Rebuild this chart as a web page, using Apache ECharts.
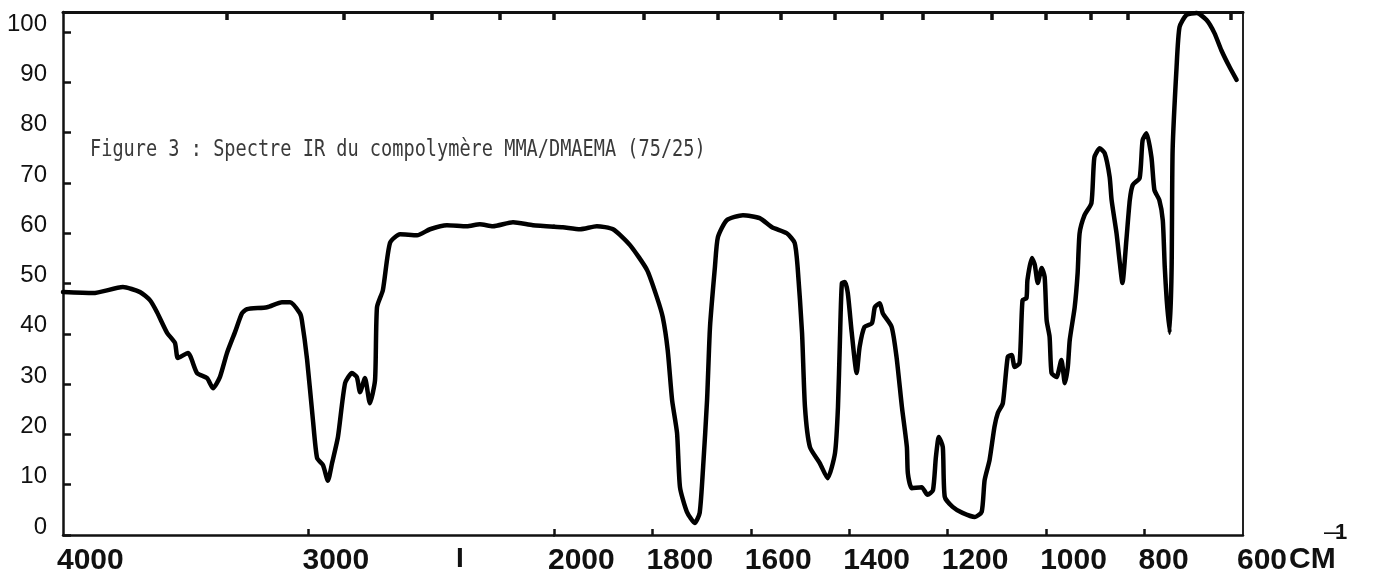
<!DOCTYPE html>
<html>
<head>
<meta charset="utf-8">
<script src="https://cdn.jsdelivr.net/npm/echarts@6/dist/echarts.min.js"></script>
<style>
html,body{margin:0;padding:0;background:#fff;}
#chart{width:1375px;height:584px;}
</style>
</head>
<body>
<div id="chart"></div>
<script>
// ---- Data (wavenumber in cm-1, transmittance in %) ----
// High-wavenumber section (4000 -> 2000 cm-1)
const hiWavenumbers = [4000,3878,3756,3686,3646,3617,3576,3544,3532,3491,3454,3413,3389,3361,3332,3299,3271,3251,3169,3108,3075,3035,3027,3006,2982,2965,2941,2921,2904,2880,2851,2823,2803,2790,2770,2750,2729,2721,2697,2668,2627,2558,2505,2436,2355,2302,2249,2167,2086,2000];
const hiTransmittance = [48.3,48.1,49.3,48.3,46.7,44.3,40.2,38.2,35.2,36.2,32.2,31.2,29.2,31.4,36.2,40.4,44.1,44.9,45.3,46.3,46.3,44.1,42.7,35.0,22.9,15.3,13.9,10.8,14.3,19.5,30.2,32.2,31.4,28.4,31.2,26.2,30.8,45.3,48.7,58.1,59.8,59.6,60.8,61.6,61.4,61.8,61.4,62.2,61.6,61.3];
// Low-wavenumber section (2000 -> 600 cm-1)
const loWavenumbers = [2000,1982,1947,1913,1880,1846,1811,1791,1779,1769,1760,1750,1744,1730,1714,1704,1697,1689,1683,1673,1667,1649,1616,1582,1557,1527,1511,1505,1496,1490,1480,1460,1444,1429,1423,1419,1415,1409,1403,1395,1385,1379,1369,1354,1348,1338,1332,1314,1304,1293,1283,1281,1273,1253,1241,1230,1224,1218,1210,1206,1190,1170,1145,1131,1125,1115,1105,1098,1088,1078,1070,1064,1054,1048,1040,1038,1029,1023,1017,1009,1003,999,993,989,979,969,962,956,952,942,936,932,922,908,902,891,881,871,867,857,851,845,837,830,824,810,804,796,786,780,770,763,759,755,749,745,743,735,729,715,694,674,658,644,627,613];
const loTransmittance = [61.3,61.2,60.8,61.4,60.8,57.7,52.7,47.3,43.3,36.8,26.8,20.3,9.5,4.6,2.4,4.4,13.5,26.8,41.4,53.3,59.2,62.6,63.6,63.0,61.2,60.0,58.1,53.3,40.2,25.4,17.5,14.3,11.3,16.3,25.4,38.8,50.1,50.3,48.1,40.2,32.2,37.4,41.4,42.1,45.3,46.1,44.1,41.4,35.4,25.4,17.5,12.3,9.3,9.5,8.0,8.9,15.5,19.5,17.5,7.6,5.6,4.4,3.6,4.6,10.9,14.9,21.5,24.3,26.2,35.4,35.8,33.4,34.2,46.7,47.1,50.7,55.1,53.7,50.1,53.1,51.3,42.7,39.4,32.2,31.4,34.8,30.2,33.4,38.8,45.3,52.1,60.0,63.6,66.0,75.1,76.9,75.9,71.2,66.6,60.0,54.7,50.1,58.6,66.6,69.6,71.0,78.5,79.9,75.1,68.6,66.6,62.6,53.3,46.7,40.2,53.3,76.5,93.0,101.0,103.4,103.8,102.4,99.8,96.4,93.0,90.5];

// Tick labels / tick positions
const yTickValues = [0,10,20,30,40,50,60,70,80,90,100];
const hiXLabels = [4000,3000];
const loXLabels = [2000,1800,1600,1400,1200,1000,800,600];
const micronTicks = [3,3.5,4,4.5,5,5.5,6,6.5,7,7.5,8,9,10,11,12,16]; // top scale, µm
const titleText = 'Figure 3 : Spectre IR du compolymère MMA/DMAEMA (75/25)';

const hiMicronCm = micronTicks.map(m => 10000 / m).filter(w => w > 2000 && w < 4000);
const loMicronCm = micronTicks.map(m => 10000 / m).filter(w => w >= 600 && w <= 2000);

const hiData = hiWavenumbers.map((w, i) => [w, hiTransmittance[i]]);
const loData = loWavenumbers.map((w, i) => [w, loTransmittance[i]]);

const chart = echarts.init(document.getElementById('chart'), null, {renderer: 'canvas'});

const frameLine = {show: true, lineStyle: {color: '#111', width: 2.5}};
const plain = v => String(Math.round(v));
const xLabelStyle = {
  show: true, color: '#111', fontFamily: 'Liberation Sans, Arial, sans-serif',
  fontWeight: 'bold', fontSize: 30, align: 'left', margin: 11, padding: [0, 0, 0, -6],
  formatter: plain
};
const lineSeriesStyle = {color: '#000', width: 4.5, cap: 'round', join: 'round'};

const option = {
  backgroundColor: '#fff',
  animation: false,
  grid: [
    {left: 63, top: 12, width: 491, height: 523},
    {left: 554, top: 12, width: 689, height: 523}
  ],
  xAxis: [
    { // bottom, high range
      gridIndex: 0, type: 'value', min: 2000, max: 4000, inverse: true, position: 'bottom',
      axisLine: frameLine,
      axisTick: {show: true, inside: true, length: 6, lineStyle: {color: '#111', width: 2.5}, customValues: [3000]},
      axisLabel: Object.assign({}, xLabelStyle, {customValues: hiXLabels}),
      splitLine: {show: false}
    },
    { // bottom, low range
      gridIndex: 1, type: 'value', min: 600, max: 2000, inverse: true, position: 'bottom',
      axisLine: frameLine,
      axisTick: {show: true, inside: true, length: 6, lineStyle: {color: '#111', width: 2.5}, customValues: loXLabels.filter(v => v > 600)},
      axisLabel: Object.assign({}, xLabelStyle, {customValues: loXLabels}),
      splitLine: {show: false}
    },
    { // top, high range (micron ticks)
      gridIndex: 0, type: 'value', min: 2000, max: 4000, inverse: true, position: 'top',
      axisLine: {show: true, lineStyle: {color: '#111', width: 3}},
      axisTick: {show: true, inside: true, length: 8, lineStyle: {color: '#111', width: 3.5}, customValues: hiMicronCm},
      axisLabel: {show: false},
      splitLine: {show: false}
    },
    { // top, low range (micron ticks)
      gridIndex: 1, type: 'value', min: 600, max: 2000, inverse: true, position: 'top',
      axisLine: {show: true, lineStyle: {color: '#111', width: 3}},
      axisTick: {show: true, inside: true, length: 8, lineStyle: {color: '#111', width: 3.5}, customValues: loMicronCm},
      axisLabel: {show: false},
      splitLine: {show: false}
    }
  ],
  yAxis: [
    {
      gridIndex: 0, type: 'value', min: 0, max: 104, position: 'left',
      axisLine: frameLine,
      axisTick: {show: true, inside: true, length: 8, lineStyle: {color: '#111', width: 2.5}, customValues: yTickValues},
      axisLabel: {
        show: true, customValues: yTickValues, color: '#111',
        fontFamily: 'Liberation Sans Narrow, Liberation Sans, Arial, sans-serif',
        fontSize: 24, margin: 16, verticalAlign: 'bottom', lineHeight: 16,
        formatter: plain
      },
      splitLine: {show: false}
    },
    {
      gridIndex: 1, type: 'value', min: 0, max: 104, position: 'right',
      axisLine: {show: true, lineStyle: {color: '#222', width: 2}},
      axisTick: {show: false},
      axisLabel: {show: false},
      splitLine: {show: false}
    }
  ],
  series: [
    {
      type: 'line', xAxisIndex: 0, yAxisIndex: 0, data: hiData,
      showSymbol: false, smooth: 0.2, clip: false,
      lineStyle: lineSeriesStyle
    },
    {
      type: 'line', xAxisIndex: 1, yAxisIndex: 1, data: loData,
      showSymbol: false, smooth: 0.2, clip: false,
      lineStyle: lineSeriesStyle
    }
  ],
  graphic: [
    {
      type: 'text', left: 90, top: 139, scaleY: 1.22,
      style: {
        text: titleText, fill: '#3a3a3a',
        font: '18.6px "DejaVu Sans Mono", "Liberation Mono", monospace'
      }
    },
    {
      type: 'text', left: 456, top: 545,
      style: {text: 'I', fill: '#111', font: 'bold 28px "Liberation Sans", Arial, sans-serif'}
    },
    {
      type: 'text', left: 1289, top: 545,
      style: {text: 'CM', fill: '#111', font: 'bold 30px "Liberation Sans", Arial, sans-serif'}
    },
    {
      type: 'text', left: 1324, top: 526,
      style: {text: '\u2014', fill: '#111', font: 'bold 16px "Liberation Sans", Arial, sans-serif'}
    },
    {
      type: 'text', left: 1335, top: 522,
      style: {text: '1', fill: '#111', font: 'bold 22px "Liberation Sans", Arial, sans-serif'}
    }
  ]
};

chart.setOption(option);
</script>
</body>
</html>
